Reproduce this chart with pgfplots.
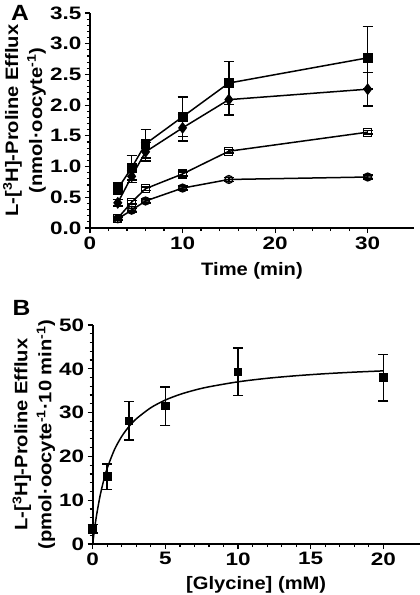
\documentclass[border=0pt]{standalone}
\usepackage{fontspec}
\setmainfont{Liberation Sans}[FakeStretch=1.12]
\newfontfamily\tickfont{Liberation Sans}[FakeStretch=1.25]
\usepackage{pgfplots}
\pgfplotsset{compat=1.18}
\pgfplotsset{
  gp/.style={
    scale only axis, clip=false,
    axis x line*=bottom, axis y line*=left,
    axis line style={-, line width=1.6bp, black},
    tick align=outside,
    major tick length=5bp, minor tick length=3bp,
    every tick/.style={line width=1.2bp, black},
    tick label style={font=\tickfont\bfseries\fontsize{18bp}{18bp}\selectfont},
    /pgf/number format/assume math mode=true,
    label style={font=\bfseries\fontsize{18bp}{24bp}\selectfont},
    ylabel style={align=center, anchor=center},
    xlabel style={anchor=base},
    every axis plot/.append style={line width=1.5bp, black},
    error bars/error bar style={line width=1.5bp, black},
    error bars/error mark options={rotate=90, mark size=5bp, line width=1.5bp, black},
  }
}
\begin{document}
\begin{tikzpicture}
\useasboundingbox (0bp,0bp) rectangle (420bp,-595bp);
\node[anchor=base west, inner sep=0pt, font=\bfseries\fontsize{22bp}{22bp}\selectfont] at (11bp,-20bp) {A};
\node[anchor=base west, inner sep=0pt, font=\bfseries\fontsize{22bp}{22bp}\selectfont] at (12.5bp,-315bp) {B};
\begin{axis}[gp,
  at={(90bp,-228bp)}, anchor=south west,
  width=324bp, height=215bp,
  xmin=0, xmax=35, ymin=0, ymax=3.5,
  xtick={0,10,20,30}, minor x tick num=4,
  ytick={0,0.5,...,3.5}, minor y tick num=4,
  yticklabel style={/pgf/number format/.cd, fixed, fixed zerofill, precision=1},
  xlabel={Time (min)},
  xlabel style={at={(axis description cs:0.5,-0.222)}},
  ylabel={L-[\textsuperscript{3}H]-Proline Efflux\\(nmol·oocyte\textsuperscript{-1})},
  ylabel style={at={(axis description cs:-0.202,0.5)}},
]
% open circles
\addplot[mark=oplus, mark size=4bp, mark options={line width=1.2bp},
  error bars/.cd, y dir=both, y explicit] table[x=x, y=y, y error=e] {
x y e
3 0.15 0.03
4.5 0.29 0.03
6 0.44 0.03
10 0.65 0.03
15 0.79 0.03
30 0.83 0.03
};
% open squares
\addplot[mark=square, mark size=4bp, mark options={line width=1.2bp},
  error bars/.cd, y dir=both, y explicit] table[x=x, y=y, y error=e] {
x y e
3 0.16 0.03
4.5 0.42 0.03
6 0.64 0.03
10 0.88 0.03
15 1.25 0.03
30 1.56 0.03
};
% filled diamonds
\addplot[mark=diamond*, mark size=4.8bp,
  error bars/.cd, y dir=both, y explicit] table[x=x, y=y, y error=e] {
x y e
3 0.41 0.05
4.5 0.84 0.10
6 1.24 0.15
10 1.63 0.21
15 2.09 0.25
30 2.26 0.27
};
% filled squares
\addplot[mark=square*, mark size=4.2bp,
  error bars/.cd, y dir=both, y explicit] table[x=x, y=y, y error=e] {
x y e
3 0.64 0.09
4.5 0.98 0.20
6 1.37 0.23
10 1.81 0.32
15 2.36 0.35
30 2.77 0.51
};
\end{axis}
\begin{axis}[gp,
  at={(92.7bp,-544bp)}, anchor=south west,
  width=327bp, height=219bp,
  xmin=0, xmax=22.5, ymin=0, ymax=50,
  xtick={0,5,...,20}, minor x tick num=4,
  ytick={0,10,...,50}, minor y tick num=4,
  xlabel={[Glycine] (mM)},
  xlabel style={at={(axis description cs:0.5,-0.21)}},
  ylabel={L-[\textsuperscript{3}H]-Proline Efflux\\(pmol·oocyte\textsuperscript{-1}·10 min\textsuperscript{-1})},
  ylabel style={at={(axis description cs:-0.18,0.5)}},
]
\addplot[no marks, line width=1.5bp, smooth] coordinates {
(0,0) (0.1,2.74) (0.25,6.24) (0.5,10.87) (0.75,14.45) (1,17.31) (1.5,21.56)
(2,24.58) (2.5,26.84) (3,28.58) (4,31.12) (5,32.87) (6,34.15) (7,35.12)
(8,35.89) (10,37.03) (12,37.83) (14,38.42) (16,38.88) (18,39.24) (20,39.53)
};
\addplot[only marks, mark=square*, mark size=3.6bp,
  error bars/.cd, y dir=both, y explicit] table[x=x, y=y, y error=e] {
x y e
0 3.5 1.0
1 15.4 2.9
2.5 28.1 4.4
5 31.5 4.4
10 39.3 5.4
20 38.0 5.3
};
\end{axis}
\end{tikzpicture}
\end{document}
